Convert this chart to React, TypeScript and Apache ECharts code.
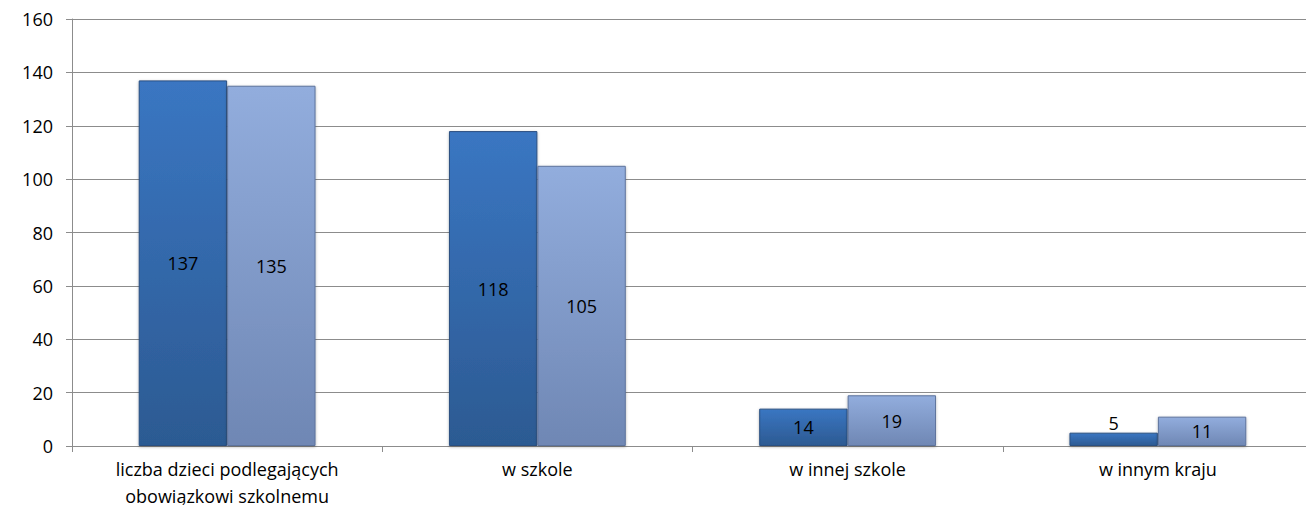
import React, { useEffect, useRef } from "react";
import * as echarts from "echarts";

const categories = [
  "liczba dzieci podlegających\nobowiązkowi szkolnemu",
  "w szkole",
  "w innej szkole",
  "w innym kraju",
];
const seriesA = [137, 118, 14, 5];
const seriesB = [135, 105, 19, 11];
const yTicks = { min: 0, max: 160, interval: 20 };

const font = "'Open Sans', 'Noto Sans', sans-serif";

export default function App() {
  const ref = useRef<HTMLDivElement>(null);
  useEffect(() => {
    const chart = echarts.init(ref.current!, null, { renderer: "svg" });
    const labelFor = (v: number) =>
      v < 8
        ? { show: true, position: "top", distance: 1 }
        : { show: true, position: "inside" };
    chart.setOption({
      animation: false,
      grid: { left: 72, right: 1, top: 19, bottom: 67, containLabel: false },
      xAxis: {
        type: "category",
        data: categories,
        axisLine: { show: true, lineStyle: { color: "#8c8c8c", width: 1 } },
        axisTick: { show: true, length: 6, lineStyle: { color: "#8c8c8c" } },
        axisLabel: {
          color: "#000",
          fontFamily: font,
          fontSize: 18,
          lineHeight: 27,
          margin: 9,
          interval: 0,
        },
      },
      yAxis: {
        type: "value",
        min: yTicks.min,
        max: yTicks.max,
        interval: yTicks.interval,
        axisLine: { show: true, lineStyle: { color: "#8c8c8c" } },
        axisTick: { show: true, length: 6, lineStyle: { color: "#8c8c8c" } },
        splitLine: { show: true, lineStyle: { color: "#8c8c8c", width: 1 } },
        axisLabel: { color: "#000", fontFamily: font, fontSize: 18, margin: 19 },
      },
      series: [
        {
          type: "bar",
          data: seriesA.map((v) => ({ value: v, label: labelFor(v) })),
          barGap: "0%",
          barCategoryGap: "43%",
          itemStyle: {
            color: new echarts.graphic.LinearGradient(0, 0, 0, 1, [
              { offset: 0, color: "#3a76c2" },
              { offset: 1, color: "#2c5a92" },
            ]),
            borderColor: "#2a4f80",
            borderWidth: 1,
            shadowColor: "rgba(0,0,0,0.3)",
            shadowBlur: 3,
            shadowOffsetY: 1,
          },
          label: { color: "#000", fontFamily: font, fontSize: 18 },
        },
        {
          type: "bar",
          data: seriesB.map((v) => ({ value: v, label: labelFor(v) })),
          itemStyle: {
            color: new echarts.graphic.LinearGradient(0, 0, 0, 1, [
              { offset: 0, color: "#92addd" },
              { offset: 1, color: "#6f87b4" },
            ]),
            borderColor: "#5d739c",
            borderWidth: 1,
            shadowColor: "rgba(0,0,0,0.3)",
            shadowBlur: 3,
            shadowOffsetY: 1,
          },
          label: { color: "#000", fontFamily: font, fontSize: 18 },
        },
      ],
    });
    return () => chart.dispose();
  }, []);
  return <div ref={ref} style={{ width: 1314, height: 513, margin: -8 }} />;
}
